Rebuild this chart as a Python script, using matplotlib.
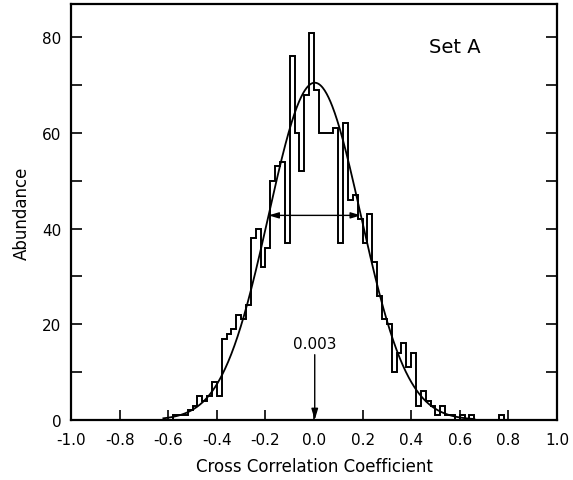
import numpy as np
import matplotlib.pyplot as plt

plt.rcParams['font.family'] = ['DejaVu Sans']
plt.rcParams['axes.unicode_minus'] = False  # 刻度用普通连字符

# 直方图: 每格 0.02, 从 -0.60 到 0.80
bin_edges = np.round(np.arange(-0.60, 0.801, 0.02), 2)
counts = [0, 1, 1, 1, 2, 3, 5, 4, 5, 8,
          5, 17, 18, 19, 22, 21, 24, 38, 40, 32,
          36, 50, 53, 54, 37, 76, 60, 52, 68, 81,
          69, 60, 60, 60, 61, 37, 62, 46, 47, 42,
          37, 43, 33, 26, 21, 20, 10, 14, 16, 11,
          14, 3, 6, 4, 3, 1, 3, 1, 1, 0,
          1, 0, 1, 0, 0, 0, 0, 0, 1, 0]

# 高斯拟合参数
fit_amp = 70.5
fit_mean = 0.003
fit_sigma = 0.19

set_name = 'Set A'
x_ticks = [-1.0, -0.8, -0.6, -0.4, -0.2, 0.0, 0.2, 0.4, 0.6, 0.8, 1.0]
x_tick_labels = ['-1.0', '-0.8', '-0.6', '-0.4', '-0.2', '0.0', '0.2', '0.4', '0.6', '0.8', '1.0']

fig = plt.figure(figsize=(5.73, 4.81), dpi=100)
ax = fig.add_axes([0.124, 0.125, 0.848, 0.865])

ax.stairs(counts, bin_edges, color='black', lw=1.4)

xs = np.linspace(-0.62, 0.66, 500)
ax.plot(xs, fit_amp * np.exp(-0.5 * ((xs - fit_mean) / fit_sigma) ** 2), color='black', lw=1.3)

# +-sigma 双箭头
h = fit_amp * np.exp(-0.5)
ax.annotate('', xy=(fit_mean - fit_sigma, h), xytext=(fit_mean + fit_sigma, h),
            arrowprops=dict(arrowstyle='<|-|>,head_length=0.6,head_width=0.18',
                            color='black', lw=1.0, shrinkA=0, shrinkB=0))

# 平均值箭头
ax.annotate('{:.3f}'.format(fit_mean), xy=(fit_mean, 0), xytext=(fit_mean, 14.5),
            ha='center', va='bottom', fontsize=11,
            arrowprops=dict(arrowstyle='-|>,head_length=0.6,head_width=0.18',
                            color='black', lw=1.0, shrinkA=1, shrinkB=0))

ax.text(0.58, 78, set_name, fontsize=14, ha='center', va='center')

ax.set_xlim(-1.0, 1.0)
ax.set_ylim(0, 87)

ax.set_xticks(x_ticks)
ax.set_xticklabels(x_tick_labels)
ax.set_yticks(np.arange(0, 81, 20))
ax.set_yticks(np.arange(10, 80, 20), minor=True)

ax.tick_params(axis='x', which='both', direction='in', length=7, width=1.2,
               top=False, labelsize=11, pad=9)
ax.tick_params(axis='y', which='both', direction='in', length=8, width=1.2,
               left=True, right=True, labelsize=11, pad=7)

for s in ax.spines.values():
    s.set_linewidth(1.6)

ax.set_xlabel('Cross Correlation Coefficient', fontsize=12, labelpad=7)
ax.set_ylabel('Abundance', fontsize=12, labelpad=8)

fig.savefig('out.png', dpi=100)
